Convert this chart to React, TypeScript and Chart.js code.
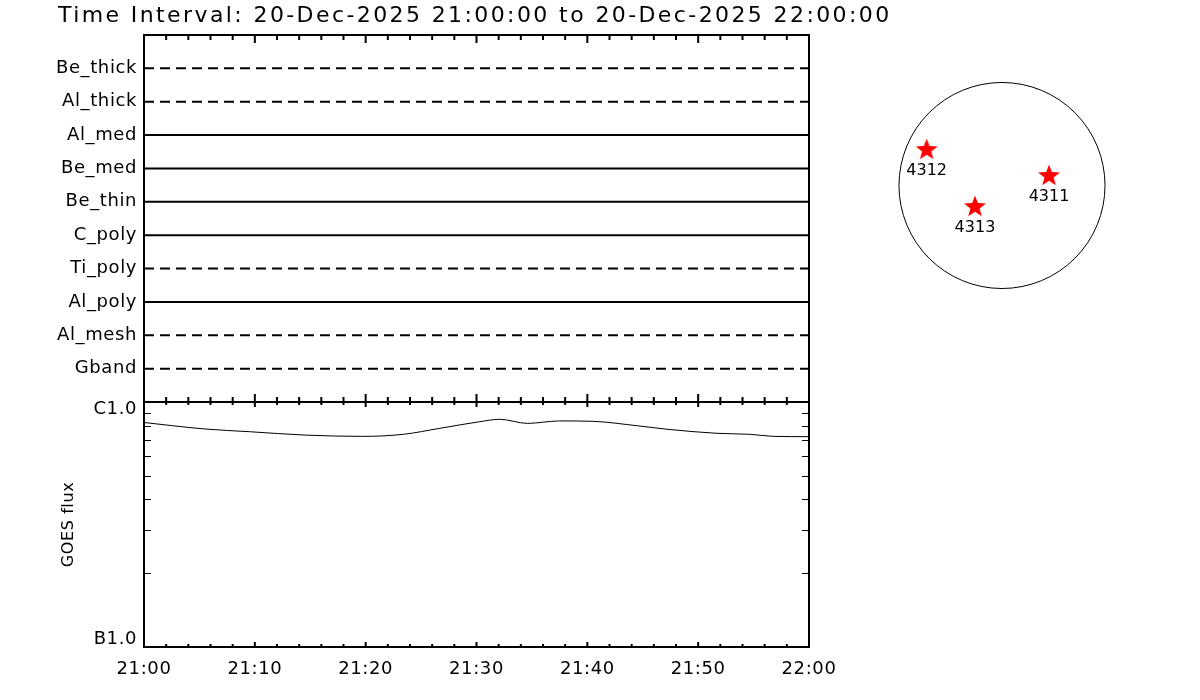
import React, { useEffect, useRef } from 'react';
import { Chart, registerables } from 'chart.js';

Chart.register(...registerables);

// ---------------- data ----------------
const TITLE = 'Time Interval: 20-Dec-2025 21:00:00 to 20-Dec-2025 22:00:00';

const FILTERS = ['Be_thick', 'Al_thick', 'Al_med', 'Be_med', 'Be_thin', 'C_poly', 'Ti_poly', 'Al_poly', 'Al_mesh', 'Gband'];
const FILTER_HAS_DATA = [false, false, true, true, true, true, false, true, false, false];

const X_TICK_LABELS = ['21:00', '21:10', '21:20', '21:30', '21:40', '21:50', '22:00'];

// minutes after 21:00
const GOES_MINUTES = [0, 2.6, 5.5, 9.6, 14.5, 19.7, 23.4, 26.7, 30.3, 32.1, 34.6, 37.5, 40.5, 44.5, 47.2, 51.7, 54.7, 56.8, 60];
const GOES_FLUX = [8.25e-7, 8.0e-7, 7.76e-7, 7.56e-7, 7.33e-7, 7.24e-7, 7.38e-7, 7.81e-7, 8.31e-7, 8.5e-7, 8.18e-7, 8.37e-7, 8.34e-7, 8.0e-7, 7.74e-7, 7.45e-7, 7.38e-7, 7.24e-7, 7.22e-7];

const GOES_LABEL_VALUES = [1e-7, 1e-6];
const GOES_LABEL_TEXT = ['B1.0', 'C1.0'];

const SOLAR_RADIUS = 960; // arcsec
const AR_NUMBERS = ['4312', '4311', '4313'];
const AR_X = [-702, 438, -252];
const AR_Y = [331, 89, -200];

// ---------------- styling ----------------
const FONT = '"DejaVu Sans", "Liberation Sans", sans-serif';

function makeStar(): HTMLCanvasElement {
  const c = document.createElement('canvas');
  c.width = 26;
  c.height = 26;
  const g = c.getContext('2d')!;
  const R = 11.5;
  const r = R * 0.42;
  g.fillStyle = '#ff0000';
  g.beginPath();
  for (let i = 0; i < 10; i++) {
    const rad = i % 2 === 0 ? R : r;
    const a = -Math.PI / 2 + (i * Math.PI) / 5;
    const px = 13 + rad * Math.cos(a);
    const py = 13 + rad * Math.sin(a);
    if (i === 0) g.moveTo(px, py);
    else g.lineTo(px, py);
  }
  g.closePath();
  g.fill();
  return c;
}

function drawFrame(chart: any, major: number, minor: number, logTicks: boolean) {
  const { ctx, chartArea: a, scales } = chart;
  const xs = scales.x;
  ctx.save();
  ctx.strokeStyle = '#000';
  ctx.lineWidth = 2;
  ctx.beginPath();
  ctx.rect(a.left, a.top, a.right - a.left, a.bottom - a.top);
  for (let m = 0; m <= 60; m += 2) {
    const px = xs.getPixelForValue(m);
    const len = m % 10 === 0 ? major : minor;
    ctx.moveTo(px, a.top);
    ctx.lineTo(px, a.top + len);
    ctx.moveTo(px, a.bottom);
    ctx.lineTo(px, a.bottom - len);
  }
  ctx.stroke();
  if (logTicks) {
    const ys = scales.y;
    ctx.lineWidth = 1;
    ctx.beginPath();
    for (let k = 2; k <= 9; k++) {
      const py = Math.round(ys.getPixelForValue(k * 1e-7)) + 0.5;
      ctx.moveTo(a.left, py);
      ctx.lineTo(a.left + 7, py);
      ctx.moveTo(a.right, py);
      ctx.lineTo(a.right - 7, py);
    }
    ctx.stroke();
  }
  ctx.restore();
}

const spacingPlugin = {
  id: 'spacing',
  beforeDraw(chart: any) {
    (chart.ctx as any).letterSpacing = '0.6px';
  },
};

export default function App() {
  const topRef = useRef<HTMLCanvasElement>(null);
  const botRef = useRef<HTMLCanvasElement>(null);
  const diskRef = useRef<HTMLCanvasElement>(null);

  useEffect(() => {
    const charts: Chart[] = [];
    const base = {
      animation: false as const,
      responsive: false,
      devicePixelRatio: 1,
      events: [] as any[],
    };

    // ---------- top panel: filters ----------
    charts.push(
      new Chart(topRef.current!, {
        type: 'line',
        data: {
          datasets: FILTERS.map((name, i) => ({
            label: name,
            data: [
              { x: 0, y: FILTERS.length - i },
              { x: 60, y: FILTERS.length - i },
            ],
            borderColor: '#000',
            borderWidth: 2,
            borderDash: FILTER_HAS_DATA[i] ? [] : [10, 6],
            pointRadius: 0,
            fill: false,
          })),
        },
        options: {
          ...base,
          layout: { padding: { left: 0, top: 35, right: 391, bottom: 298 } },
          plugins: { legend: { display: false }, tooltip: { enabled: false } },
          scales: {
            x: { type: 'linear', min: 0, max: 60, display: false },
            y: {
              type: 'linear',
              min: 0,
              max: 11,
              grid: { display: false, drawTicks: false, tickLength: 0 },
              border: { display: false },
              ticks: {
                stepSize: 1,
                autoSkip: false,
                padding: 7,
                color: '#000',
                font: { family: FONT, size: 18 },
                callback: (v: any) => FILTERS[FILTERS.length - Number(v)] ?? '',
              },
              afterFit: (s: any) => {
                s.width = 144;
              },
            },
          },
        } as any,
        plugins: [
          spacingPlugin,
          {
            id: 'frameTop',
            afterDraw(chart: any) {
              drawFrame(chart, 8, 5, false);
              const ctx = chart.ctx;
              ctx.save();
              ctx.font = `22px ${FONT}`;
              ctx.letterSpacing = '2.4px';
              ctx.fillStyle = '#000';
              ctx.textAlign = 'left';
              ctx.textBaseline = 'middle';
              ctx.fillText(TITLE, 58, 16);
              ctx.restore();
            },
          },
        ],
      })
    );

    // ---------- bottom panel: GOES flux ----------
    charts.push(
      new Chart(botRef.current!, {
        type: 'line',
        data: {
          datasets: [
            {
              label: 'GOES',
              data: GOES_MINUTES.map((m, i) => ({ x: m, y: GOES_FLUX[i] })),
              borderColor: '#000',
              borderWidth: 1,
              pointRadius: 0,
              cubicInterpolationMode: 'monotone',
              fill: false,
            },
          ],
        },
        options: {
          ...base,
          layout: { padding: { left: 0, top: 402, right: 391, bottom: 0 } },
          plugins: { legend: { display: false }, tooltip: { enabled: false } },
          scales: {
            x: {
              type: 'linear',
              min: 0,
              max: 60,
              grid: { display: false, drawTicks: false, tickLength: 0 },
              border: { display: false },
              ticks: {
                stepSize: 10,
                autoSkip: false,
                maxRotation: 0,
                padding: 12,
                color: '#000',
                font: { family: FONT, size: 18 },
                callback: (v: any) => X_TICK_LABELS[Math.round(Number(v) / 10)] ?? '',
              },
              afterFit: (s: any) => {
                s.height = 53;
              },
            },
            y: {
              type: 'logarithmic',
              min: 1e-7,
              max: 1e-6,
              grid: { display: false, drawTicks: false, tickLength: 0 },
              border: { display: false },
              ticks: {
                autoSkip: false,
                padding: 7,
                color: '#000',
                font: { family: FONT, size: 18, lineHeight: 0.8 },
                callback: (v: any) => {
                  const i = GOES_LABEL_VALUES.findIndex(
                    (t) => Math.abs(Math.log10(Number(v)) - Math.log10(t)) < 1e-6
                  );
                  if (i < 0) return '';
                  return i === GOES_LABEL_VALUES.length - 1
                    ? ['', GOES_LABEL_TEXT[i]]
                    : [GOES_LABEL_TEXT[i], ''];
                },
              },
              title: {
                display: true,
                text: 'GOES flux',
                color: '#000',
                font: { family: FONT, size: 16 },
                padding: { top: 59, bottom: 0 },
              },
              afterFit: (s: any) => {
                s.width = 144;
              },
            },
          },
        } as any,
        plugins: [
          spacingPlugin,
          {
            id: 'frameBottom',
            afterDraw(chart: any) {
              drawFrame(chart, 5, 3, true);
            },
          },
        ],
      })
    );

    // ---------- solar disk ----------
    const star = makeStar();
    charts.push(
      new Chart(diskRef.current!, {
        type: 'scatter',
        data: {
          datasets: [
            {
              label: 'limb',
              data: [{ x: 0, y: 0 }],
              pointRadius: (c: any) => {
                const s = c.chart.scales.x;
                return Math.abs(s.getPixelForValue(SOLAR_RADIUS) - s.getPixelForValue(0));
              },
              pointBackgroundColor: 'rgba(0,0,0,0)',
              pointBorderColor: '#000',
              pointBorderWidth: 1,
            },
            {
              label: 'AR',
              data: AR_X.map((x, i) => ({ x, y: AR_Y[i] })),
              pointStyle: star as any,
              pointRadius: 12,
            },
          ],
        },
        options: {
          ...base,
          layout: { padding: { left: 892, right: 88, top: 75.5, bottom: 404.5 } },
          plugins: { legend: { display: false }, tooltip: { enabled: false } },
          scales: {
            x: { type: 'linear', min: -1025, max: 1025, display: false },
            y: { type: 'linear', min: -1025, max: 1025, display: false },
          },
        } as any,
        plugins: [
          {
            id: 'arLabels',
            afterDatasetsDraw(chart: any) {
              const ctx = chart.ctx;
              const meta = chart.getDatasetMeta(1);
              ctx.save();
              ctx.font = `16px ${FONT}`;
              ctx.fillStyle = '#000';
              ctx.textAlign = 'center';
              ctx.textBaseline = 'middle';
              meta.data.forEach((el: any, i: number) => {
                ctx.fillText(AR_NUMBERS[i], el.x, el.y + 21);
              });
              ctx.restore();
            },
          },
        ],
      })
    );

    return () => charts.forEach((c) => c.destroy());
  }, []);

  const cs: React.CSSProperties = { position: 'absolute', left: 0, top: 0 };
  return (
    <div style={{ position: 'absolute', left: 0, top: 0, width: 1200, height: 700, background: '#fff' }}>
      <canvas ref={topRef} width={1200} height={700} style={cs} />
      <canvas ref={botRef} width={1200} height={700} style={cs} />
      <canvas ref={diskRef} width={1200} height={700} style={cs} />
    </div>
  );
}
